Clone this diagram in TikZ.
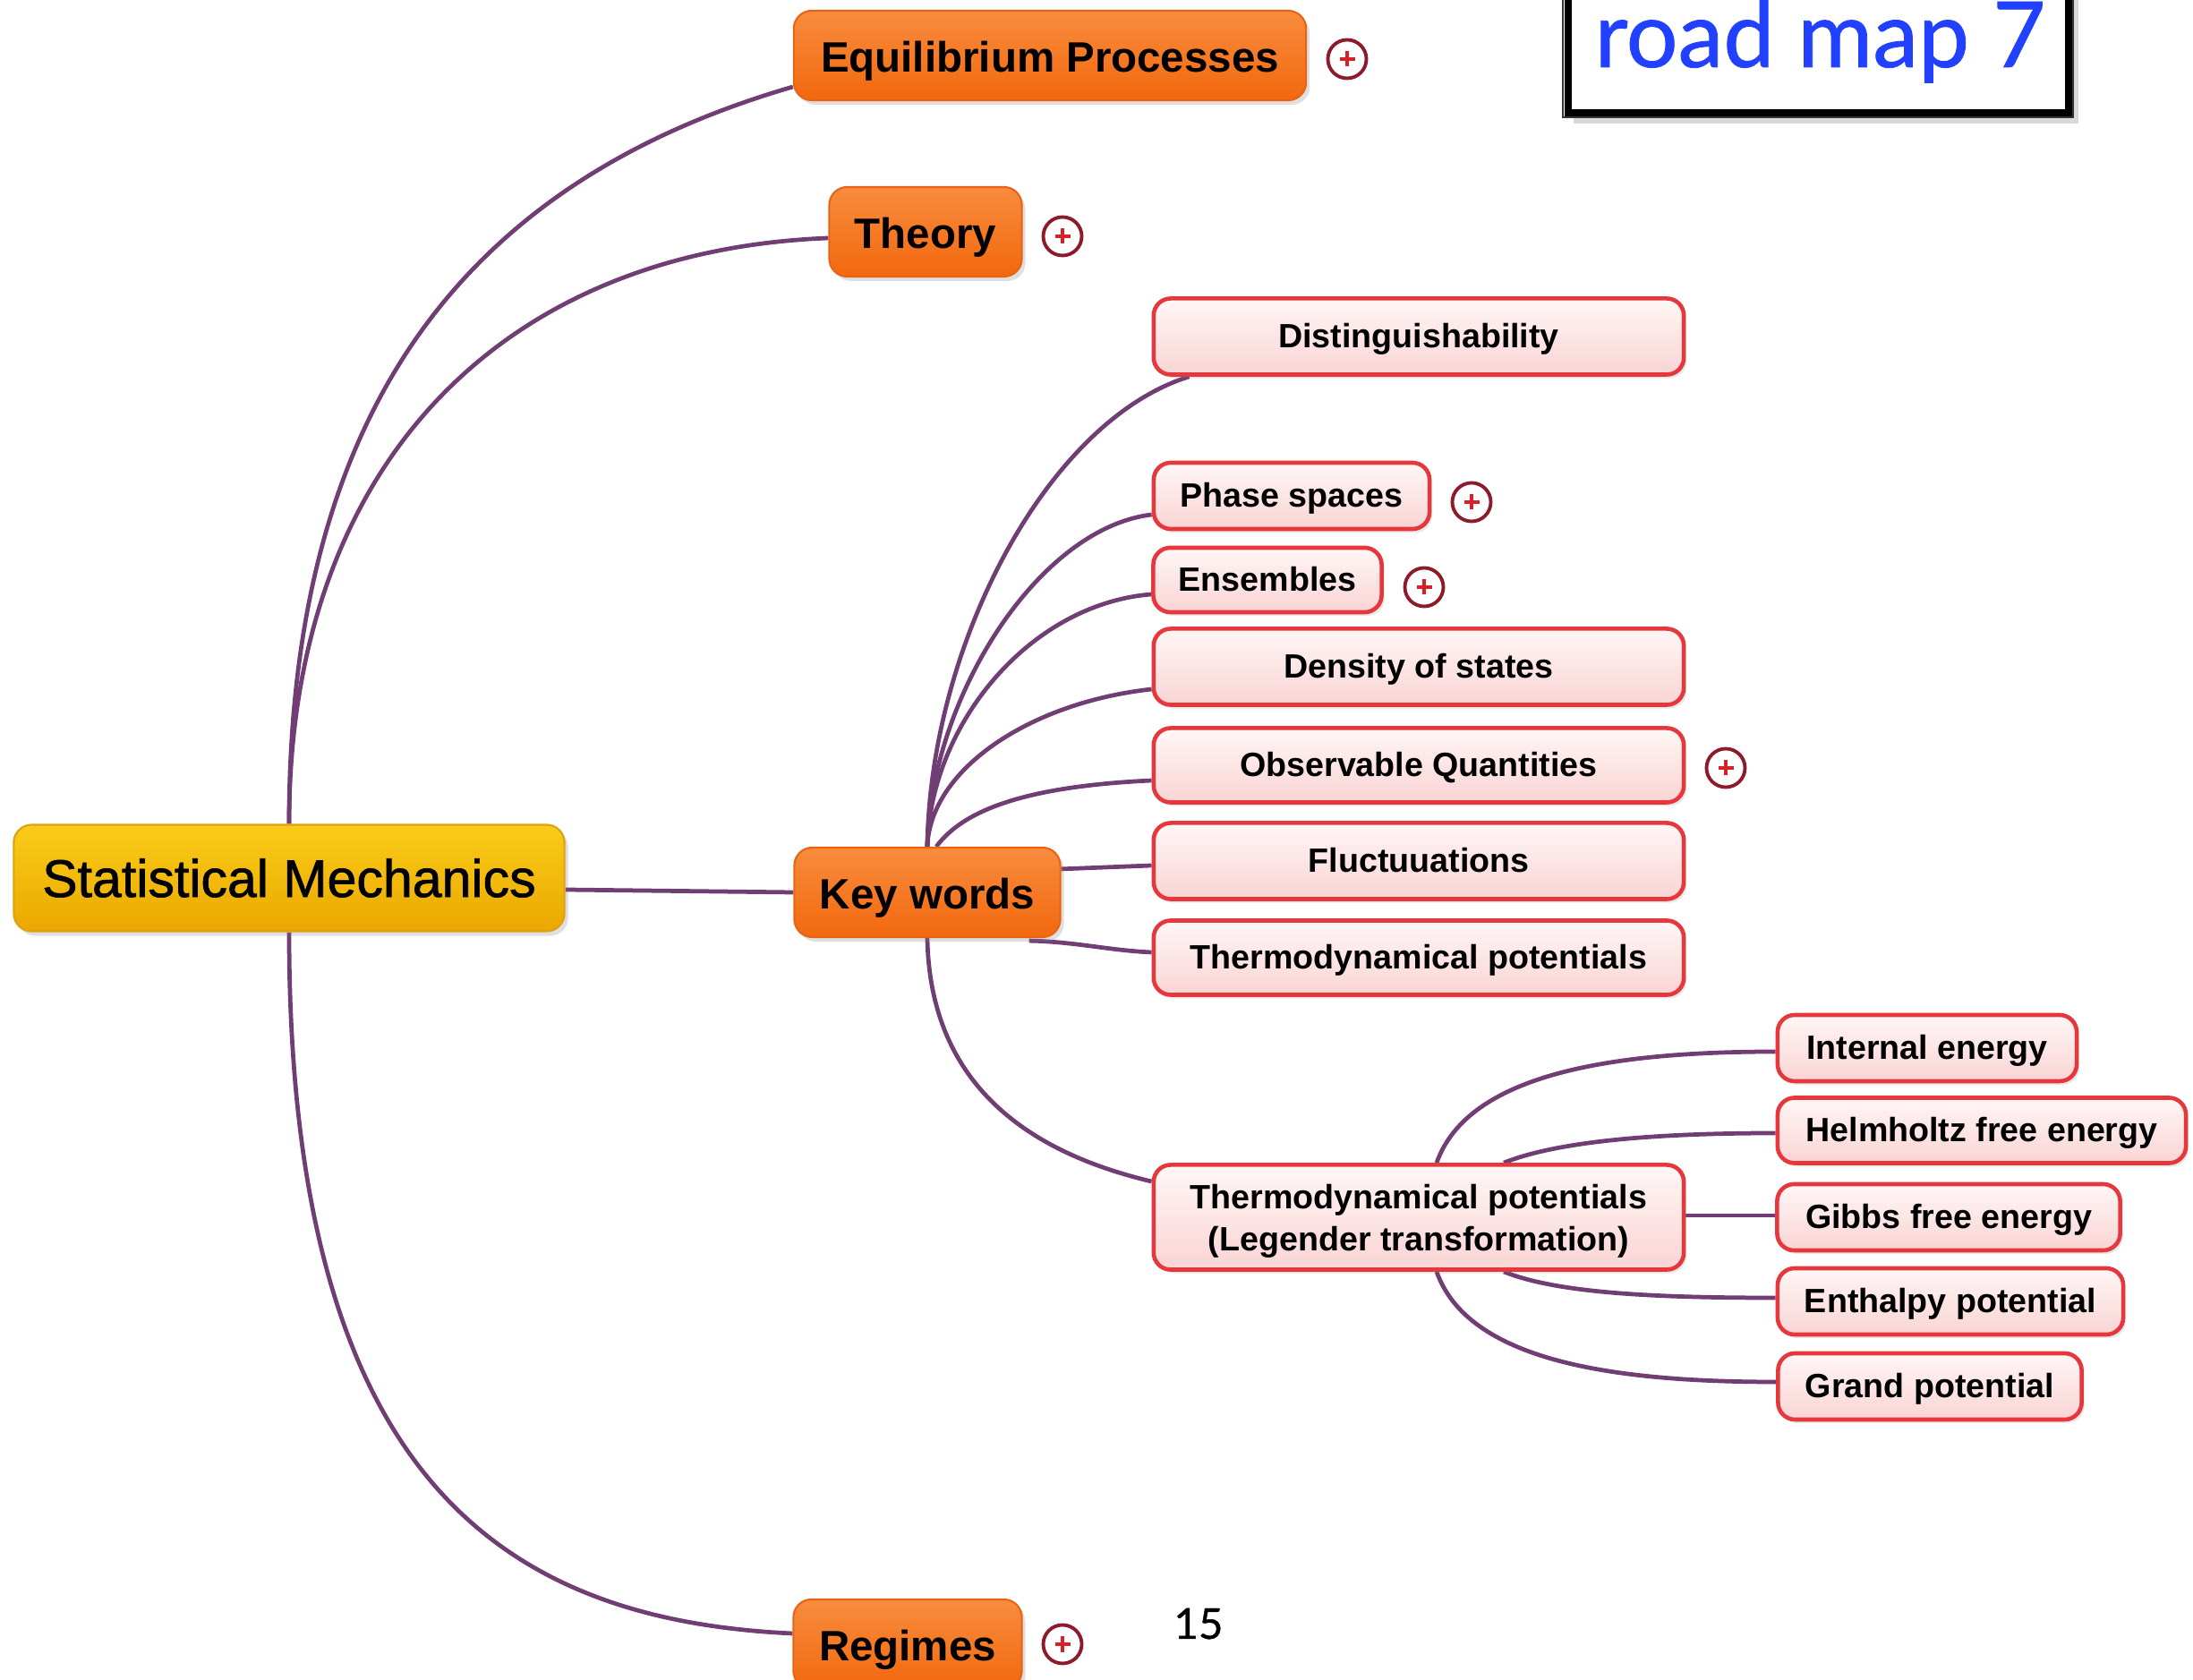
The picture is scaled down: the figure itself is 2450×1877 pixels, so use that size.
\documentclass[tikz,border=0pt]{standalone}
\usepackage{fontspec}
\setmainfont{Liberation Sans}
\newfontfamily\gillfont[FakeBold=0.8]{Lato}
\newfontfamily\smfont[FakeBold=1.2]{Liberation Sans}
\usetikzlibrary{calc,backgrounds,shadows}
\definecolor{conn}{RGB}{112,62,116}
\definecolor{orTop}{RGB}{248,140,62}
\definecolor{orBot}{RGB}{242,104,14}
\definecolor{orLine}{RGB}{232,100,20}
\definecolor{yeTop}{RGB}{250,204,24}
\definecolor{yeBot}{RGB}{234,168,0}
\definecolor{yeLine}{RGB}{222,160,20}
\definecolor{pkTop}{RGB}{255,246,246}
\definecolor{pkBot}{RGB}{250,212,212}
\definecolor{pkLine}{RGB}{230,56,60}
\definecolor{plusRing}{RGB}{140,28,44}
\definecolor{plusRed}{RGB}{214,32,42}
\definecolor{rmBlue}{RGB}{34,64,255}
\begin{document}
\begin{tikzpicture}[x=0.01cm,y=-0.01cm,
  orangebox/.style={rounded corners=0.2cm, draw=orLine, line width=0.6pt,
    top color=orTop, bottom color=orBot, inner sep=0pt,
    text height=10.6pt, text depth=0pt,
    font=\fontsize{13.5pt}{16pt}\selectfont\bfseries,
    drop shadow={opacity=0.25, shadow xshift=0.04cm, shadow yshift=-0.05cm}},
  yellowbox/.style={rounded corners=0.2cm, draw=yeLine, line width=0.6pt,
    top color=yeTop, bottom color=yeBot, inner sep=0pt,
    font=\smfont\fontsize{16.8pt}{19pt}\selectfont,
    drop shadow={opacity=0.25, shadow xshift=0.04cm, shadow yshift=-0.05cm}},
  pinkbase/.style={rounded corners=0.19cm, draw=pkLine, line width=1.3pt,
    top color=pkTop, bottom color=pkBot, inner sep=0pt,
    font=\fontsize{10.7pt}{13.3pt}\selectfont\bfseries,
    drop shadow={opacity=0.18, shadow xshift=0.03cm, shadow yshift=-0.04cm}},
  pinkbox/.style={pinkbase, text height=7.2pt, text depth=0pt},
  plusicon/.style={circle, draw=plusRing, line width=1.1pt, fill=white,
    minimum size=0.43cm, inner sep=0pt,
    path picture={\draw[plusRed, line width=1.3pt]
      ([xshift=-0.085cm]path picture bounding box.center) -- ([xshift=0.085cm]path picture bounding box.center)
      ([yshift=-0.085cm]path picture bounding box.center) -- ([yshift=0.085cm]path picture bounding box.center);}},
  link/.style={draw=conn, line width=1.35pt}
]
\useasboundingbox (0,0) rectangle (2450,1877);

% road map frame
\fill[black!25, opacity=0.6] (1758,-20) rectangle (2322,138);
\fill[white] (1750,-20) rectangle (2313,128);
\draw[black, line width=2.4pt] (1752,-20) -- (1752,126) -- (2311,126) -- (2311,-20);
\draw[black!80, line width=0.8pt] (1746,-20) -- (1746,131) -- (2316,131) -- (2316,-20);
\node[font=\gillfont\fontsize{29pt}{29pt}\selectfont, text=rmBlue, anchor=base west, inner sep=0pt] (rm) at (1781,75) {road map 7};

% main nodes
\node[yellowbox, minimum width=6.15cm, minimum height=1.19cm] (sm) at (323,981) {Statistical Mechanics};
\node[orangebox, minimum width=5.72cm, minimum height=1.0cm] (eq) at (1173,62) {Equilibrium Processes};
\node[orangebox, minimum width=2.15cm, minimum height=1.0cm] (th) at (1034,259) {Theory};
\node[orangebox, minimum width=2.97cm, minimum height=1.0cm] (kw) at (1036,997) {Key words};
\node[orangebox, minimum width=2.55cm, minimum height=1.0cm] (rg) at (1014,1837) {Regimes};

\node[plusicon] (peq) at (1505,66) {};
\node[plusicon] (pth) at (1187,264) {};
\node[plusicon] (prg) at (1187,1837) {};

% key word nodes
\node[pinkbox, minimum width=5.92cm, minimum height=0.85cm] (di) at (1585,376) {Distinguishability};
\node[pinkbox, minimum width=3.08cm, minimum height=0.74cm] (ph) at (1443,554) {Phase spaces};
\node[pinkbox, minimum width=2.55cm, minimum height=0.72cm] (en) at (1416,648) {Ensembles};
\node[pinkbox, minimum width=5.92cm, minimum height=0.85cm] (ds) at (1585,745) {Density of states};
\node[pinkbox, minimum width=5.92cm, minimum height=0.83cm] (ob) at (1585,855) {Observable Quantities};
\node[pinkbox, minimum width=5.92cm, minimum height=0.85cm] (fl) at (1585,962) {Fluctuuations};
\node[pinkbox, minimum width=5.92cm, minimum height=0.83cm] (tp) at (1585,1070) {Thermodynamical potentials};
\node[pinkbase, minimum width=5.92cm, minimum height=1.17cm] (lg) at (1585,1360)
  {\raisebox{-1.4pt}[\height][\depth]{\begin{tabular}{@{}c@{}}Thermodynamical potentials\\(Legender transformation)\end{tabular}}};

\node[plusicon] (pph) at (1644,561) {};
\node[plusicon] (pen) at (1591,656) {};
\node[plusicon] (pob) at (1928,858) {};

% potentials
\node[pinkbox, minimum width=3.34cm, minimum height=0.74cm] (ie) at (2153,1171) {Internal energy};
\node[pinkbox, minimum width=4.56cm, minimum height=0.73cm] (hf) at (2214,1263) {Helmholtz free energy};
\node[pinkbox, minimum width=3.83cm, minimum height=0.74cm] (gf) at (2177,1360) {Gibbs free energy};
\node[pinkbox, minimum width=3.86cm, minimum height=0.74cm] (ep) at (2179,1454) {Enthalpy potential};
\node[pinkbox, minimum width=3.39cm, minimum height=0.74cm] (gp) at (2156,1549) {Grand potential};

\node[font=\gillfont\fontsize{13.5pt}{13.5pt}\selectfont, anchor=base, inner sep=0pt] (pg) at (1339,1831) {15};

\begin{pgfonlayer}{background}
  % from Statistical Mechanics
  \path[link] (sm.north) .. controls (323,472) and (507,207) .. ($(eq.west)+(0,35)$);
  \path[link] (sm.north) .. controls (323,520) and (560,280) .. ($(th.west)+(0,7)$);
  \path[link] (sm.south) .. controls (323,1650) and (560,1810) .. ($(rg.west)+(0,-12)$);
  \path[link] ($(sm.east)+(0,13)$) -- (kw.west);
  % from Key words
  \path[link] (kw.north) .. controls (1039,720) and (1170,470) .. ($(di.south west)+(42,0)$);
  \path[link] (kw.north) .. controls (1039,780) and (1160,590) .. ($(ph.west)+(0,21)$);
  \path[link] (kw.north) .. controls (1039,810) and (1150,675) .. ($(en.west)+(0,16)$);
  \path[link] (kw.north) .. controls (1039,860) and (1150,785) .. ($(ds.west)+(0,25)$);
  \path[link] ($(kw.north)+(10,0)$) .. controls (1080,900) and (1160,878) .. ($(ob.west)+(0,17)$);
  \path[link] ($(kw.north east)+(0,25)$) -- ($(fl.west)+(0,5)$);
  \path[link] ($(kw.south east)+(-36,3)$) .. controls (1200,1052) and (1240,1062) .. ($(tp.west)+(0,-6)$);
  \path[link] (kw.south) .. controls (1039,1220) and (1160,1290) .. ($(lg.west)+(0,-40)$);
  % from Legender
  \path[link] ($(lg.north)+(20,0)$) .. controls (1640,1200) and (1800,1175) .. ($(ie.west)+(0,4)$);
  \path[link] ($(lg.north)+(95,0)$) .. controls (1740,1275) and (1850,1266) .. ($(hf.west)+(0,3)$);
  \path[link] ($(lg.east)+(0,-2)$) -- ($(gf.west)+(0,-2)$);
  \path[link] ($(lg.south)+(95,0)$) .. controls (1740,1445) and (1850,1450) .. ($(ep.west)+(0,-4)$);
  \path[link] ($(lg.south)+(20,0)$) .. controls (1640,1520) and (1800,1544) .. ($(gp.west)+(0,-5)$);
\end{pgfonlayer}
\end{tikzpicture}
\end{document}
